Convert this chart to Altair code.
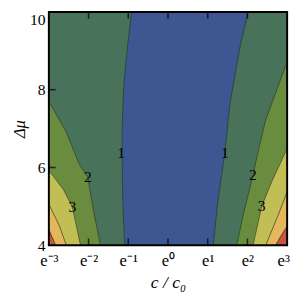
import altair as alt
import pandas as pd

# ---- axes ----
X_TICKS = [-3, -2, -1, 0, 1, 2, 3]            # ln(c/c0)
X_TICK_LABELS = ["e⁻³", "e⁻²", "e⁻¹", "e⁰", "e¹", "e²", "e³"]
Y_TICKS = [4, 6, 8, 10]
X_DOMAIN = [-3, 3]
Y_DOMAIN = [4, 10]

# ---- contour levels and band colours (band below level 1 first) ----
LEVELS = [1, 2, 3, 4, 5]
BAND_COLORS = ["#3c5791", "#48735a", "#6a8c3e", "#c0be55", "#e4b75c", "#c8553e"]

# ---- contour lines: (ln c/c0, Δμ), bottom to top ----
L1_X = [-1.09, -1.14, -1.156, -1.15, -1.11, -1.03, -0.92]
L1_Y = [4.0, 5.19, 6.42, 7.16, 8.15, 9.0, 10.0]
R1_X = [1.14, 1.24, 1.43, 1.56, 1.82, 2.02]
R1_Y = [4.0, 5.01, 6.37, 7.65, 9.14, 10.0]

L2_X = [-1.70, -1.87, -2.02, -2.24, -2.56, -3.0]
L2_Y = [4.0, 4.86, 5.75, 6.10, 6.91, 7.70]
R2_X = [1.73, 1.90, 2.14, 2.27, 2.46, 3.0]
R2_Y = [4.0, 4.81, 5.80, 6.42, 7.23, 8.72]

L3_X = [-2.20, -2.41, -2.63, -3.0]
L3_Y = [4.0, 4.99, 5.43, 5.93]
R3_X = [2.14, 2.36, 2.63, 3.0]
R3_Y = [4.0, 5.01, 5.68, 6.49]

L4_X = [-2.56, -2.73, -3.0]
L4_Y = [4.0, 4.49, 5.06]
R4_X = [2.46, 2.76, 3.0]
R4_Y = [4.0, 4.74, 5.38]

L5_X = [-2.83, -2.90, -3.0]
L5_Y = [4.0, 4.17, 4.40]
R5_X = [2.71, 2.85, 3.0]
R5_Y = [4.0, 4.25, 4.49]

# ---- contour labels ----
LABEL_TEXT = ["1", "1", "2", "2", "3", "3"]
LABEL_X = [-1.18, 1.43, -2.02, 2.14, -2.41, 2.36]
LABEL_Y = [6.37, 6.37, 5.75, 5.80, 4.99, 5.01]

CONTOURS = {
    (1, "L"): (L1_X, L1_Y), (1, "R"): (R1_X, R1_Y),
    (2, "L"): (L2_X, L2_Y), (2, "R"): (R2_X, R2_Y),
    (3, "L"): (L3_X, L3_Y), (3, "R"): (R3_X, R3_Y),
    (4, "L"): (L4_X, L4_Y), (4, "R"): (R4_X, R4_Y),
    (5, "L"): (L5_X, L5_Y), (5, "R"): (R5_X, R5_Y),
}

SERIF = "Liberation Serif"

label_expr = " : ".join(
    f"datum.value == {v} ? '{t}'" for v, t in zip(X_TICKS, X_TICK_LABELS)
) + " : ''"

x_axis = alt.Axis(values=X_TICKS, labelExpr=label_expr, ticks=False, domain=False,
                  grid=False, labelFont=SERIF, labelFontSize=17, labelColor="black",
                  labelPadding=8, labelFlush=False, labelOverlap=False,
                  labelOffset={"condition": {"test": f"datum.value == {X_DOMAIN[1]}",
                                             "value": -4},
                               "value": 0},
                  title="c / c₀", titleFont=SERIF, titleFontSize=18,
                  titleFontStyle="italic", titleFontWeight="normal",
                  titleColor="black", titlePadding=5)
y_axis = alt.Axis(values=Y_TICKS, ticks=False, domain=False, grid=False,
                  labelFont=SERIF, labelFontSize=16, labelColor="black",
                  labelPadding=4, labelFlush=False, labelOverlap=False,
                  labelBaseline={"condition": {"test": f"datum.value == {Y_DOMAIN[1]}",
                                               "value": "top"},
                                 "value": "middle"},
                  title="Δμ", titleFont=SERIF, titleFontSize=17,
                  titleFontStyle="italic", titleFontWeight="normal",
                  titleColor="black", titlePadding=1)

x_scale = alt.Scale(domain=X_DOMAIN, nice=False, zero=False)
y_scale = alt.Scale(domain=Y_DOMAIN, nice=False, zero=False)


def X(f):
    return alt.X(f, type="quantitative", scale=x_scale, axis=x_axis)


def Y(f):
    return alt.Y(f, type="quantitative", scale=y_scale, axis=y_axis)


box_df = pd.DataFrame({"x0": [X_DOMAIN[0]], "x1": [X_DOMAIN[1]],
                       "y0": [Y_DOMAIN[0]], "y1": [Y_DOMAIN[1]]})

layers = [
    alt.Chart(box_df).mark_rect(color=BAND_COLORS[0]).encode(
        x=X("x0"), x2="x1", y=Y("y0"), y2="y1")
]

line_layers = []
for lvl in LEVELS:
    for side in ["L", "R"]:
        xs, ys = CONTOURS[(lvl, side)]
        edge = X_DOMAIN[0] if side == "L" else X_DOMAIN[1]
        # band: closed polygon along the contour, then back along the frame edge
        poly = pd.DataFrame({
            "i": list(range(len(xs) + 2)),
            "x": list(xs) + [edge, edge],
            "y": list(ys) + [ys[-1], Y_DOMAIN[0]],
        })
        layers.append(
            alt.Chart(poly).mark_line(
                fill=BAND_COLORS[lvl], stroke=BAND_COLORS[lvl], strokeWidth=0.5,
                fillOpacity=1, clip=True
            ).encode(x=X("x"), y=Y("y"), order="i:Q")
        )
        d = pd.DataFrame({"i": list(range(len(xs))), "x": xs, "y": ys})
        line_layers.append(
            alt.Chart(d).mark_line(color="#26332b", strokeWidth=0.8, opacity=0.85,
                                   clip=True).encode(
                x=X("x"), y=Y("y"), order="i:Q")
        )

layers.extend(line_layers)

lab_df = pd.DataFrame({"x": LABEL_X, "y": LABEL_Y, "t": LABEL_TEXT})
layers.append(
    alt.Chart(lab_df).mark_text(font=SERIF, fontSize=16, color="black").encode(
        x=X("x"), y=Y("y"), text="t:N")
)

# inward frame ticks
xt_df = pd.DataFrame({"x": X_TICKS[1:-1]})
yt_df = pd.DataFrame({"y": Y_TICKS[1:-1]})
layers.append(
    alt.Chart(xt_df).mark_tick(orient="vertical", size=7, thickness=1.6,
                               color="black", yOffset=-3.5).encode(
        x=X("x"), y=alt.datum(Y_DOMAIN[0]))
)
layers.append(
    alt.Chart(xt_df).mark_tick(orient="vertical", size=7, thickness=1.6,
                               color="black", yOffset=3.5).encode(
        x=X("x"), y=alt.datum(Y_DOMAIN[1]))
)
layers.append(
    alt.Chart(yt_df).mark_tick(orient="horizontal", size=7, thickness=1.6,
                               color="black", xOffset=3.5).encode(
        x=alt.datum(X_DOMAIN[0]), y=Y("y"))
)

# frame
layers.append(
    alt.Chart(box_df).mark_rect(fillOpacity=0, stroke="black", strokeWidth=2).encode(
        x=X("x0"), x2="x1", y=Y("y0"), y2="y1")
)

chart = alt.layer(*layers).properties(
    width=245, height=240,
    autosize=alt.AutoSizeParams(type="none"),
    padding={"left": 42, "top": 0, "right": 5, "bottom": 45},
).configure_view(strokeWidth=0)

chart.save("out.html", embed_options={"renderer": "svg", "actions": False})
